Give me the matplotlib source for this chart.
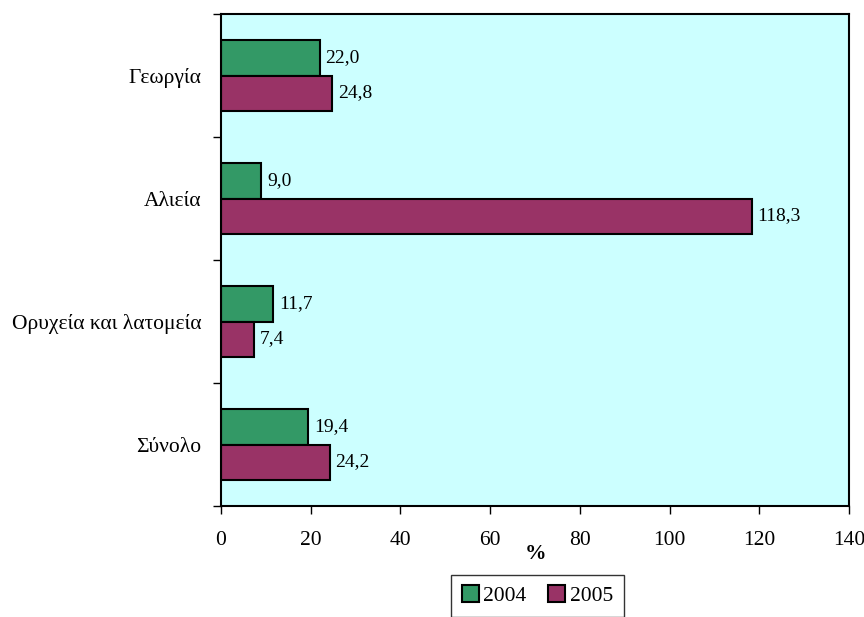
import matplotlib
matplotlib.use("Agg")
import matplotlib.pyplot as plt
import numpy as np

# data, top to bottom as shown
categories = ["Γεωργία", "Αλιεία", "Ορυχεία και λατομεία", "Σύνολο"]
vals_2004 = [22.0, 9.0, 11.7, 19.4]
vals_2005 = [24.8, 118.3, 7.4, 24.2]
years = ["2004", "2005"]
xticks = [0, 20, 40, 60, 80, 100, 120, 140]

plt.rcParams['font.family'] = ['Liberation Serif', 'DejaVu Serif']
plt.rcParams['font.size'] = 15.5

fig = plt.figure(figsize=(8.64, 6.17), dpi=100)
ax = fig.add_axes([0.2558, 0.1799, 0.7269, 0.7974])
ax.set_facecolor("#CCFFFF")

y = np.arange(len(categories))
h = 0.285
b1 = ax.barh(y - h / 2, vals_2004, height=h, color="#339966",
             edgecolor="black", linewidth=1.5, label=years[0])
b2 = ax.barh(y + h / 2, vals_2005, height=h, color="#993366",
             edgecolor="black", linewidth=1.5, label=years[1])

# value labels with decimal comma
for bars, vals in ((b1, vals_2004), (b2, vals_2005)):
    for bar, v in zip(bars, vals):
        ax.text(v + 1.3, bar.get_y() + bar.get_height() / 2,
                f"{v:.1f}".replace(".", ","), va="center", ha="left", fontsize=14)

ax.set_xlim(0, 140)
ax.set_ylim(len(categories) - 0.5, -0.5)
ax.set_xticks(xticks)
ax.set_xticklabels([str(t) for t in xticks])
ax.set_yticks(y)
ax.set_yticklabels(categories)
ax.tick_params(axis='y', length=0, pad=14)
# tick marks at the category borders
ax.set_yticks(np.arange(len(categories) + 1) - 0.5, minor=True)
ax.tick_params(axis='y', which='minor', length=6, width=1, direction='out')
ax.tick_params(axis='x', length=6, width=1, direction='out', pad=12)

for s in ax.spines.values():
    s.set_linewidth(1.5)

ax.set_xlabel("%", fontweight="bold", labelpad=-4)

fig.legend(handles=[b1, b2], labels=years, loc="upper center",
           bbox_to_anchor=(0.622, 0.086), ncol=2, frameon=True,
           fancybox=False, edgecolor="black", handlelength=0.8,
           handleheight=0.8, handletextpad=0.2, columnspacing=1.0,
           borderpad=0.5, fontsize=15.5)

fig.savefig("out.png", dpi=100)
